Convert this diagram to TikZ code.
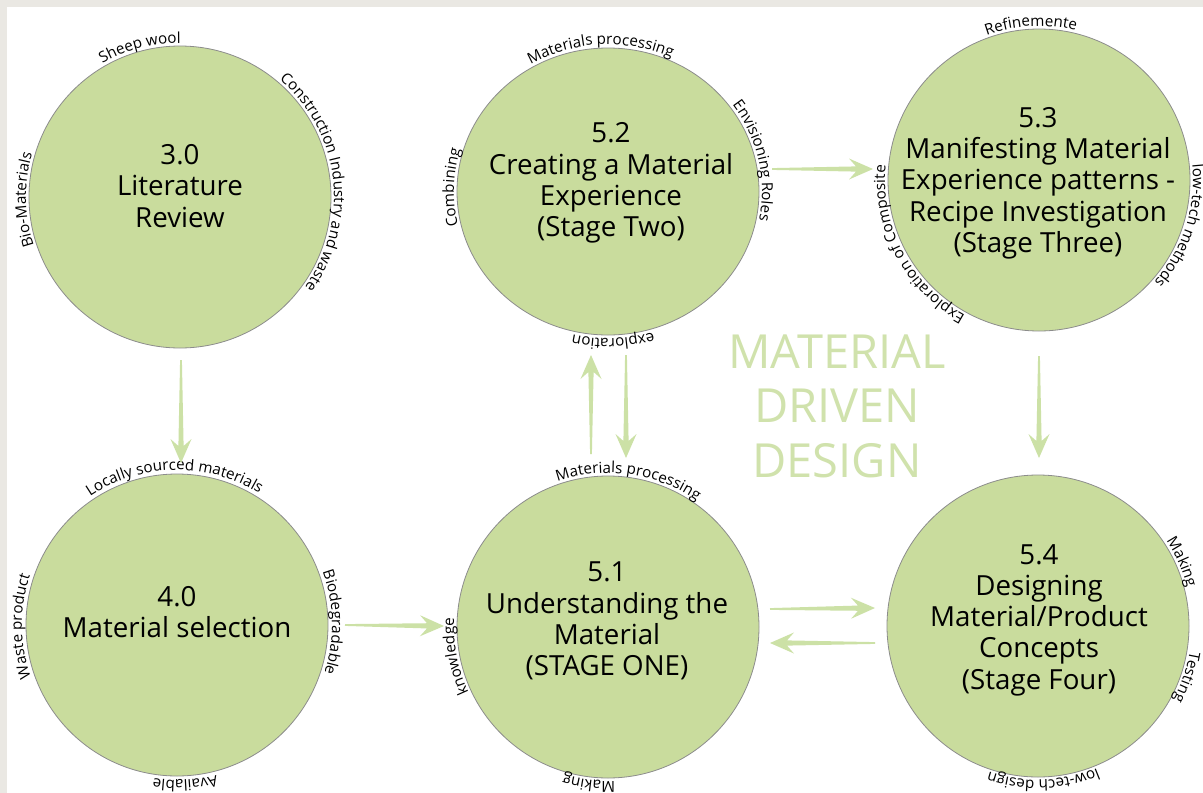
\documentclass[tikz,border=0pt]{standalone}
\usepackage{fontspec}
\setmainfont{Open Sans}
\usetikzlibrary{calc,decorations.text,shapes.geometric}

\definecolor{discfill}{RGB}{201,220,157}
\definecolor{discline}{RGB}{140,140,140}
\definecolor{flowgreen}{RGB}{204,225,166}
\definecolor{titlegreen}{RGB}{208,226,172}
\definecolor{paper}{RGB}{234,232,227}

\newcommand\lblfont{\fontsize{15.2}{17}\selectfont}

% label set along a clockwise arc of the disc outline, centred on angle #2
\newcommand\arclabel[5]{%
  \path[decorate, decoration={text along path, text align=center,
        text={|\lblfont|#5}}]
    ([shift={(#2+75:#3 and #4)}]#1.center)
    arc[start angle=#2+75, end angle=#2-75, x radius=#3, y radius=#4];
}

% tapered flow arrow between two named coordinates
\newcommand\flowarrow[2]{%
  \path ($(#2)!17pt!(#1)$) coordinate (fa-n) ($(#2)!24pt!(#1)$) coordinate (fa-b);
  \fill[flow] ($(#1)!0.9pt!90:(#2)$) -- ($(fa-n)!2.6pt!90:(#2)$)
    -- ($(fa-b)!10.5pt!90:(#2)$) -- (#2) -- ($(fa-b)!10.5pt!-90:(#2)$)
    -- ($(fa-n)!2.6pt!-90:(#2)$) -- ($(#1)!0.9pt!-90:(#2)$) -- cycle;
}

\tikzset{
  disc/.style={circle, draw=discline, line width=0.8pt, fill=discfill,
    minimum size=302pt, inner sep=0pt},
  oval/.style={ellipse, draw=discline, line width=0.8pt, fill=discfill,
    minimum width=302pt, minimum height=287pt, inner sep=0pt},
  stagetext/.style={align=center, font=\fontsize{27.7}{31.3}\selectfont, text=black,
    inner sep=0pt},
  flow/.style={fill=flowgreen},
  bigtitle/.style={align=center, font=\fontsize{47}{54.5}\selectfont,
    text=titlegreen, inner sep=0pt},
}

\begin{document}
\begin{tikzpicture}[x=1pt,y=1pt]
  % paper and sheet
  \fill[paper] (0,0) rectangle (1203,-793);
  \fill[white] (7,-7) rectangle (1203,-793);
  \useasboundingbox (0,0) rectangle (1203,-793);

  % discs
  \node[disc] (c1) at (180,-197) {};
  \node[oval] (c2) at (608,-191.5) {};
  \node[disc] (c3) at (1039,-180) {};
  \node[disc] (c4) at (177,-625) {};
  \node[disc] (c5) at (608,-627) {};
  \node[disc] (c6) at (1038,-626) {};

  % stage titles
  \node[stagetext] (t1) at (180,-186) {3.0\\Literature\\Review};
  \node[stagetext] (t2) at (611,-183) {5.2\\Creating a Material\\Experience\\(Stage Two)};
  \node[stagetext] (t3) at (1038,-183) {5.3\\Manifesting Material\\Experience patterns -\\Recipe Investigation\\(Stage Three)};
  \node[stagetext] (t4) at (177,-612) {4.0\\Material selection};
  \node[stagetext] (t5) at (607,-621) {5.1\\Understanding the\\Material\\(STAGE ONE)};
  \node[stagetext] (t6) at (1039,-620) {5.4\\Designing\\Material/Product\\Concepts\\(Stage Four)};

  % centre heading
  \node[bigtitle] (head) at (837,-406) {MATERIAL\\DRIVEN\\DESIGN};

  % labels round the discs
  \arclabel{c1}{105}{154}{154}{Sheep wool}
  \arclabel{c1}{7}{154}{154}{Construction Industry and waste}
  \arclabel{c1}{181}{154}{154}{Bio-Materials}

  \arclabel{c2}{93}{154}{147}{Materials processing}
  \arclabel{c2}{12}{154}{147}{Envisioning Roles}
  \arclabel{c2}{178.5}{154}{147}{Combining}
  \arclabel{c2}{272}{154}{147}{exploration}

  \arclabel{c3}{93}{154}{154}{Refinemente}
  \arclabel{c3}{-18}{154}{154}{low-tech methods}
  \arclabel{c3}{208}{154}{154}{Exploration of Composite}

  \arclabel{c4}{91}{155}{155}{Locally sourced materials}
  \arclabel{c4}{1}{155}{155}{Biodegradable}
  \arclabel{c4}{180.5}{155}{155}{Waste product}
  \arclabel{c4}{273}{155}{155}{Available}

  \arclabel{c5}{82}{154}{154}{Materials processing}
  \arclabel{c5}{191}{154}{154}{knowledge}
  \arclabel{c5}{263}{154}{154}{Making}

  \arclabel{c6}{24}{154}{154}{Making}
  \arclabel{c6}{-19}{154}{154}{Testing}
  \arclabel{c6}{272}{154}{154}{low-tech design}

  % arrow ends
  \coordinate (a14s) at (181,-360);  \coordinate (a14e) at (181,-463);
  \coordinate (a45s) at (345,-625);  \coordinate (a45e) at (444,-626);
  \coordinate (a52s) at (591,-454);  \coordinate (a52e) at (591,-355);
  \coordinate (a25s) at (626,-355);  \coordinate (a25e) at (626,-458);
  \coordinate (a23s) at (772,-169);  \coordinate (a23e) at (873,-169);
  \coordinate (a36s) at (1039,-356); \coordinate (a36e) at (1039,-458);
  \coordinate (a56s) at (770,-609);  \coordinate (a56e) at (875,-608);
  \coordinate (a65s) at (875,-643);  \coordinate (a65e) at (770,-643);

  % flow arrows
  \flowarrow{a14s}{a14e}
  \flowarrow{a45s}{a45e}
  \flowarrow{a52s}{a52e}
  \flowarrow{a25s}{a25e}
  \flowarrow{a23s}{a23e}
  \flowarrow{a36s}{a36e}
  \flowarrow{a56s}{a56e}
  \flowarrow{a65s}{a65e}
\end{tikzpicture}
\end{document}
